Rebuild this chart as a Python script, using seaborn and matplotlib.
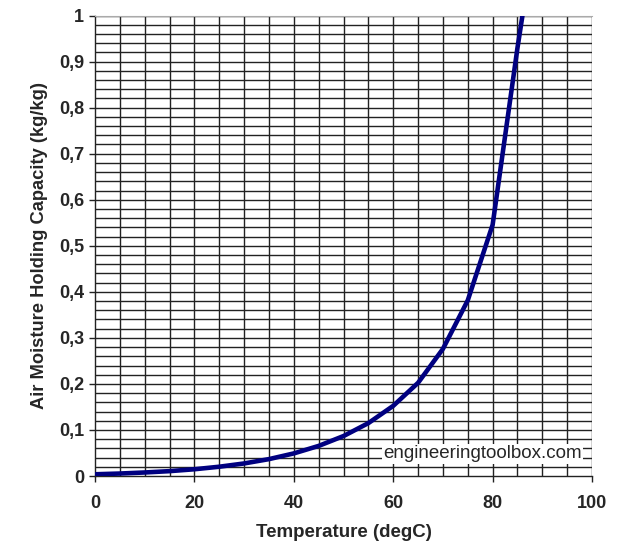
import numpy as np
import pandas as pd
import matplotlib
matplotlib.use('Agg')
import matplotlib.pyplot as plt
import seaborn as sns

sns.set_style('white')
plt.rcParams['font.family'] = ['Liberation Sans', 'DejaVu Sans']

# temperature (degC) and max moisture content of air (kg water / kg dry air)
temp = [0, 5, 10, 15, 20, 25, 30, 35, 40, 45, 50, 55, 60, 65, 70, 75, 80, 85, 86]
capacity = [0.0038, 0.0054, 0.0077, 0.0106, 0.0147, 0.0202, 0.0273, 0.0367,
            0.0491, 0.0654, 0.0868, 0.1149, 0.1524, 0.2024, 0.2761, 0.3816,
            0.5456, 0.93, 1.0]

x_ticks = [0, 20, 40, 60, 80, 100]
y_ticks = [0, 0.1, 0.2, 0.3, 0.4, 0.5, 0.6, 0.7, 0.8, 0.9, 1.0]
y_labels = ['0', '0,1', '0,2', '0,3', '0,4', '0,5', '0,6', '0,7', '0,8', '0,9', '1']

df = pd.DataFrame({'Temperature': temp, 'Capacity': capacity})

fig = plt.figure(figsize=(6.18, 5.55), dpi=100)
ax = fig.add_axes([0.1537, 0.1423, 0.8043, 0.8297])

# grid: every 5 degC and every 0.02 kg/kg
for gx in np.arange(5, 101, 5):
    ax.axvline(gx, color='#222222', lw=1.0, zorder=1)
for gy in np.arange(0.02, 1.001, 0.02):
    ax.axhline(gy, color='#222222', lw=1.0, zorder=1)

sns.lineplot(data=df, x='Temperature', y='Capacity', ax=ax,
             color='#000080', lw=3.3, zorder=3)

ax.set_xlim(0, 100)
ax.set_ylim(0, 1)
ax.set_xticks(x_ticks)
ax.set_yticks(y_ticks)
ax.set_yticklabels(y_labels)
ax.tick_params(axis='both', direction='out', length=4.5, width=1, color='#222222',
               labelsize=13, left=True, bottom=True)
ax.tick_params(axis='y', pad=3.5)
ax.tick_params(axis='x', pad=9.5)
for lab in ax.get_xticklabels() + ax.get_yticklabels():
    lab.set_fontweight('bold')

for s in ['left', 'bottom']:
    ax.spines[s].set_color('#222222')
    ax.spines[s].set_linewidth(1.0)
ax.spines['top'].set_color('#aaaaaa')
ax.spines['right'].set_visible(False)

ax.set_xlabel('Temperature (degC)', fontsize=13.5, fontweight='bold', labelpad=8.5)
ax.set_ylabel('Air Moisture Holding Capacity (kg/kg)', fontsize=13.2,
              fontweight='bold', labelpad=8)

ax.text(77.9, 0.048, 'engineeringtoolbox.com', fontsize=13.5, ha='center', va='center',
        zorder=4, bbox=dict(facecolor='white', edgecolor='none', pad=1))

fig.savefig('out.png', dpi=100)
